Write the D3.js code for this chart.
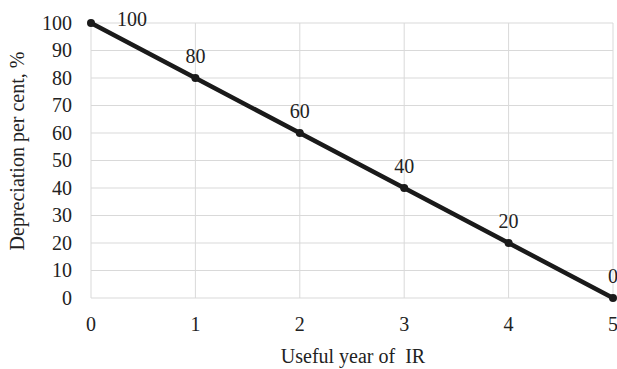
<!DOCTYPE html>
<html>
<head>
<meta charset="utf-8">
<script src="https://cdn.jsdelivr.net/npm/d3@7"></script>
<style>
  body { margin: 0; background: #fff; }
  svg { display: block; font-family: "Liberation Serif", "Times New Roman", serif; }
</style>
</head>
<body>
<svg id="chart" width="617" height="369"></svg>
<script>
const years = [0, 1, 2, 3, 4, 5];
const depreciation = [100, 80, 60, 40, 20, 0];
const yTicks = [0, 10, 20, 30, 40, 50, 60, 70, 80, 90, 100];

const margin = { top: 23, right: 4, bottom: 70, left: 91 };
const width = 617, height = 369;
const fontSize = 20;

const svg = d3.select('#chart');
const x = d3.scaleLinear().domain([0, 5]).range([margin.left, width - margin.right]);
const y = d3.scaleLinear().domain([0, 100]).range([height - margin.bottom - 1, margin.top]);

// grid
const grid = svg.append('g').attr('class', 'grid');
grid.selectAll('.hgrid')
  .data(yTicks)
  .enter()
  .append('line')
  .attr('x1', x(0)).attr('x2', x(5))
  .attr('y1', (d) => y(d)).attr('y2', (d) => y(d))
  .attr('stroke', '#d9d9d9').attr('stroke-width', 1);
grid.selectAll('.vgrid')
  .data(years)
  .enter()
  .append('line')
  .attr('x1', (d) => x(d)).attr('x2', (d) => x(d))
  .attr('y1', y(0)).attr('y2', y(100))
  .attr('stroke', '#d9d9d9').attr('stroke-width', 1);

// y tick labels
svg.append('g')
  .selectAll('text')
  .data(yTicks)
  .enter()
  .append('text')
  .attr('x', 72)
  .attr('y', (d) => y(d))
  .attr('dy', '0.33em')
  .attr('text-anchor', 'end')
  .attr('font-size', fontSize)
  .attr('fill', '#222')
  .text((d) => d);

// x tick labels
svg.append('g')
  .selectAll('text')
  .data(years)
  .enter()
  .append('text')
  .attr('x', (d) => x(d))
  .attr('y', 331)
  .attr('text-anchor', 'middle')
  .attr('font-size', fontSize)
  .attr('fill', '#222')
  .text((d) => d);

// line
const line = d3.line().x((d, i) => x(years[i])).y((d) => y(d));
svg.append('path')
  .datum(depreciation)
  .attr('d', line)
  .attr('fill', 'none')
  .attr('stroke', '#1a1a1a')
  .attr('stroke-width', 4.5);

svg.append('g')
  .selectAll('circle')
  .data(depreciation)
  .enter()
  .append('circle')
  .attr('cx', (d, i) => x(years[i]))
  .attr('cy', (d) => y(d))
  .attr('r', 4)
  .attr('fill', '#1a1a1a');

// data labels
svg.append('g')
  .selectAll('text')
  .data(depreciation)
  .enter()
  .append('text')
  .attr('x', (d, i) => (i === 0 ? x(years[i]) + 41 : x(years[i])))
  .attr('y', (d, i) => (i === 0 ? y(d) + 3 : y(d) - 15))
  .attr('text-anchor', 'middle')
  .attr('font-size', fontSize)
  .attr('fill', '#222')
  .text((d) => d);

// axis titles
svg.append('text')
  .attr('x', 353)
  .attr('y', 363)
  .attr('text-anchor', 'middle')
  .attr('font-size', fontSize)
  .attr('fill', '#222')
  .attr('xml:space', 'preserve')
  .text('Useful year of  IR');

svg.append('text')
  .attr('transform', 'translate(24,151) rotate(-90)')
  .attr('text-anchor', 'middle')
  .attr('font-size', fontSize)
  .attr('fill', '#222')
  .text('Depreciation per cent, %');
</script>
</body>
</html>
